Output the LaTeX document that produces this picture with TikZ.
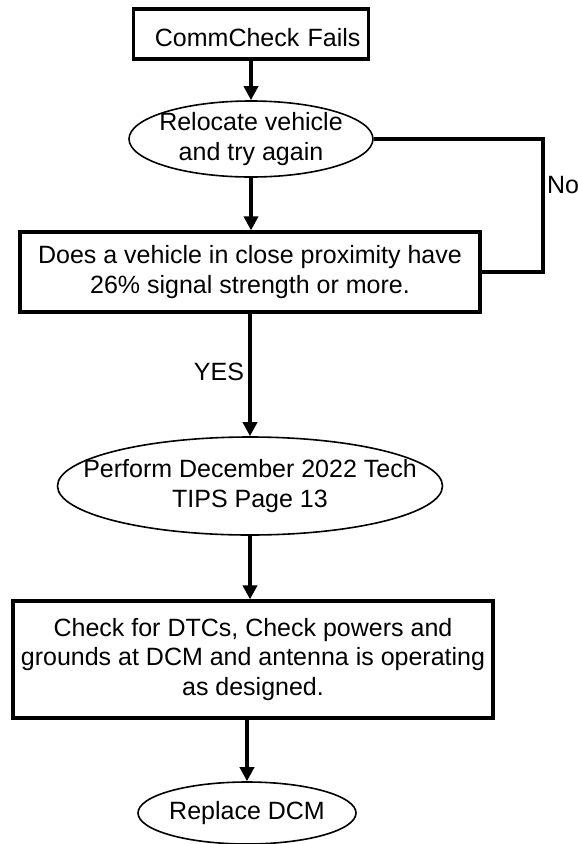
\documentclass[tikz,border=0pt]{standalone}
\usepackage{fontspec}
\setmainfont{Liberation Sans}
\usetikzlibrary{shapes.geometric,arrows.meta}
\tikzset{
    stepbox/.style={draw,line width=3.2pt,align=center,inner sep=0pt},
    oval/.style={ellipse,draw,line width=1.6pt,align=center,inner ysep=0pt},
    flow/.style={-{Triangle[width=14pt,length=14pt]},line width=4.6pt},
    noloop/.style={line width=4.5pt}
}
\begin{document}
\begin{tikzpicture}[x=1pt,y=-1pt,font=\fontsize{25}{29.5}\selectfont]
\useasboundingbox (0,0) rectangle (578,844);
\node[stepbox,minimum height=50pt,text width=219pt,align=right,inner xsep=8pt,text height=24pt,text depth=0pt](fails) at (251,34){CommCheck Fails};
\node[oval,minimum width=244pt,minimum height=76pt,inner xsep=-12pt](relocate) at (251,139){Relocate vehicle\\and try again};
\node[stepbox,minimum width=460pt,minimum height=80pt](proximity) at (250,272){Does a vehicle in close proximity have\\26\% signal strength or more.};
\node[oval,minimum width=385pt,minimum height=98pt,inner xsep=-34pt](tips) at (250,486){Perform December 2022 Tech\\TIPS Page 13};
\node[stepbox,minimum width=480pt,minimum height=117pt](checks) at (253,659.5){Check for DTCs, Check powers and\\grounds at DCM and antenna is operating\\as designed.};
\node[oval,minimum width=218pt,minimum height=62pt,inner xsep=-4pt](replace) at (247,813){Replace DCM};

\draw[flow](fails)--(relocate);
\draw[flow](relocate.south)--(relocate.south |- proximity.north);
\draw[flow](proximity.south)--(tips.north);
\draw[flow](tips.south)--(tips.south |- checks.north);
\draw[flow](checks.south -| replace.north)--(replace.north);

% no: back to the top
\coordinate (loopcorner) at (543,272);
\draw[noloop](relocate.east)-|(loopcorner)--(proximity.east);
\node (no) at (563,185){No};
\node (yes) at (219,372){YES};
\end{tikzpicture}
\end{document}
